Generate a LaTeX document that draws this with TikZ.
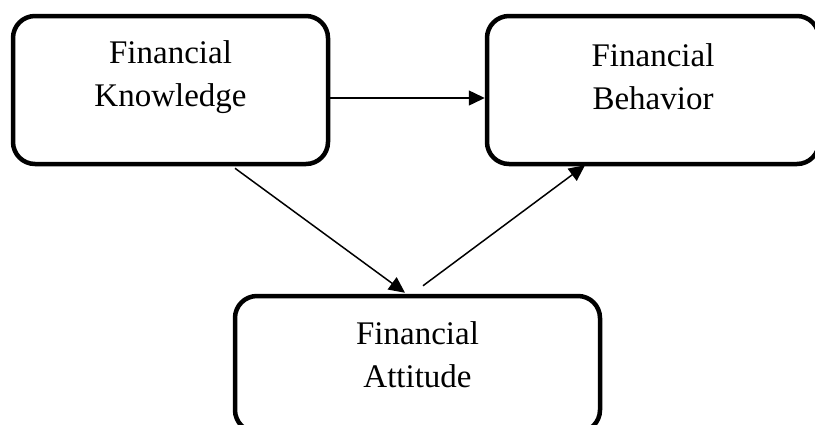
\documentclass[tikz,border=0pt]{standalone}
\usepackage{fontspec}
\setmainfont{Liberation Serif}
\usetikzlibrary{arrows.meta}
\begin{document}
\begin{tikzpicture}[x=1pt,y=-1pt,
  box/.style={draw=black, line width=4.5pt, rounded corners=22pt, minimum width=#1, inner sep=0pt},
  lbl/.style={align=center, font=\fontsize{33}{43}\selectfont, inner sep=0pt},
  arr/.style={line width=1.5pt, -{Triangle[length=16pt,width=15pt]}}]
\useasboundingbox (0,0) rectangle (815,424);
\clip (0,0) rectangle (815,424);
\node[box=315pt, minimum height=148pt] (k) at (170.5,90) {};
\node[box=332pt, minimum height=148pt] (b) at (653,90) {};
\node[box=365pt, minimum height=136pt] (a) at (417.5,364) {};
\node[lbl] (kt) at (170.5,77) {Financial\\Knowledge};
\node[lbl] (bt) at (653,77) {Financial\\Behavior};
\node[lbl] (at) at (417.5,355) {Financial\\Attitude};
\draw[arr] ([yshift=-8pt]k.east) -- ([yshift=-8pt]b.west);
\draw[arr] ([xshift=64.5pt,yshift=-2pt]k.south) -- ([xshift=-12.5pt,yshift=1pt]a.north);
\draw[arr] ([xshift=5.5pt,yshift=8pt]a.north) -- ([xshift=-68pt,yshift=1pt]b.south);
\end{tikzpicture}
\end{document}
